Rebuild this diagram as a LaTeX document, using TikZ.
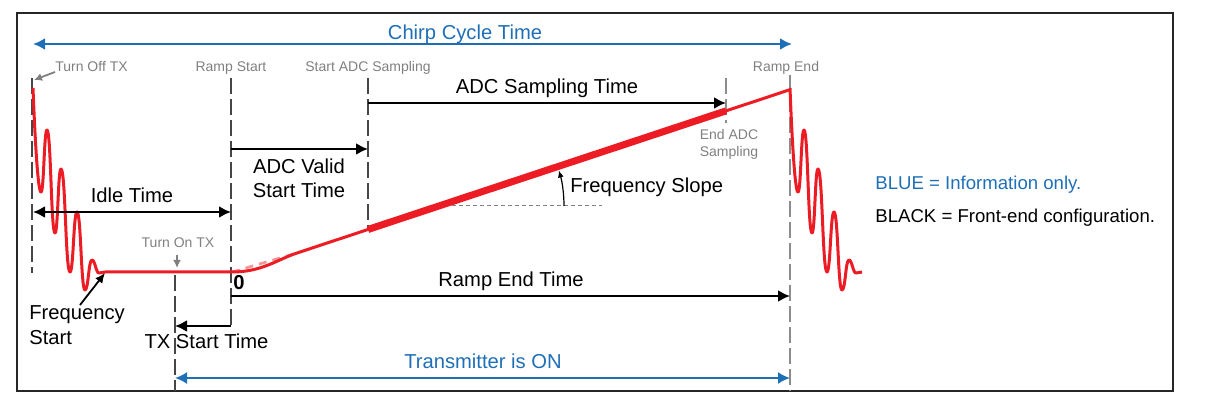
\documentclass[tikz,border=0pt]{standalone}
\usepackage{fontspec}
\setmainfont{Liberation Sans}
\usetikzlibrary{arrows.meta}
\usetikzlibrary{calc}
\usetikzlibrary{positioning}
\definecolor{chirpred}{RGB}{237,28,36}
\definecolor{infoblue}{RGB}{31,111,183}
\definecolor{tagGray}{RGB}{128,128,128}
\definecolor{lineDark}{RGB}{70,70,70}
\definecolor{lineLight}{RGB}{140,140,140}
\definecolor{rampPink}{RGB}{240,150,150}

\begin{document}
\begin{tikzpicture}[
  x=0.5pt, y=-0.5pt,
  > = {Latex[length=6pt,width=6pt]},
  lbl/.style = {inner sep=0pt, font=\fontsize{10.1}{12}\selectfont},
  tag/.style = {inner sep=0pt, text=tagGray, font=\fontsize{7}{8.5}\selectfont},
  legend/.style = {inner sep=0pt, anchor=base west, font=\fontsize{9.3}{11}\selectfont},
  markline/.style = {draw=lineDark, line width=1pt, dash pattern=on 8pt off 2.5pt},
  markline light/.style = {markline, draw=lineLight},
  dimline/.style = {line width=1.1pt},
  infoline/.style = {draw=infoblue, line width=1.2pt},
  chirp/.style = {draw=chirpred, line width=1.5pt, line join=round},
  pointer/.style = {draw=tagGray, line width=0.9pt, -{Latex[length=4pt,width=4pt]}}
  ]
	\useasboundingbox (0,0) rectangle (1216,406);
	\draw[line width=1.3pt, draw=black!85] (17,13) rectangle (1173,391);

	% markers
	\coordinate (offtop) at (32,78);
	\coordinate (offbot) at (32,273);
	\coordinate (ontop) at (175,275);
	\coordinate (onbot) at (175,391);
	\coordinate (rstop) at (231,78);
	\coordinate (rsbot) at (231,328);
	\coordinate (satop) at (368,78);
	\coordinate (sabot) at (368,229);
	\coordinate (eatop) at (726,78);
	\coordinate (eabot) at (726,123);
	\coordinate (retop) at (790,75);
	\coordinate (rebot) at (790,391);

	\draw[markline] (offtop) -- (offbot);
	\draw[markline] (ontop) -- (onbot);
	\draw[markline] (rstop) -- (rsbot);
	\draw[markline] (satop) -- (sabot);
	\draw[markline light] (eatop) -- (eabot);
	\draw[markline light] (retop) -- (rebot);

	\node[tag, anchor=base] (offtag) at (91.5,72) {Turn Off TX};
	\node[tag, above=1.5pt of rstop] (rstag) {Ramp Start};
	\node[tag, above=1.5pt of satop] (satag) {Start ADC Sampling};
	\node[tag, anchor=base] (retag) at (786,72) {Ramp End};
	\node[tag, align=center] (eatag) at (729,144) {End ADC\\Sampling};
	\node[tag, anchor=base] (ontag) at (178,248) {Turn On TX};

	\coordinate (offtip) at (34,80);
	\coordinate (offfrom) at (55,72);
	\coordinate (ontip) at (177,268);
	\coordinate (onfrom) at (177,255);
	\draw[pointer] (offfrom) -- (offtip);
	\draw[pointer] (onfrom) -- (ontip);

	% chirp
	\coordinate (flatend) at (232,272);
	\coordinate (rampkink) at (297,253);
	\coordinate (rampend) at (789,90);
	\coordinate (adcon) at ($(rampkink)!0.1443!(rampend)$);
	\coordinate (adcoff) at ($(rampkink)!0.872!(rampend)$);

	\draw[draw=rampPink, line width=1.3pt, dash pattern=on 4pt off 3pt] (flatend) -- (rampkink);

	\foreach \xs in {0,757}
	  \draw[chirp, shift={(\xs,0)}] (33,88) .. controls (35,140) and (38,192) .. (41,192)
	    .. controls (44,192) and (44,130) .. (47,130)
	    .. controls (51,130) and (51,233) .. (55,233)
	    .. controls (58,233) and (58,169) .. (61,169)
	    .. controls (65.5,169) and (65.5,272) .. (70,272)
	    .. controls (73.5,272) and (73.5,212) .. (77,212)
	    .. controls (81,212) and (81,290) .. (85,290)
	    .. controls (88.5,290) and (88.5,260) .. (92,260)
	    .. controls (95,260) and (96,273) .. (99,273)
	    .. controls (101,273) and (103,272) .. (105,272);

	\draw[chirp] (105,272) -- (flatend) .. controls (262,272) and (277,259.6) .. (rampkink) -- (rampend);
	\draw[chirp, line width=3.5pt] (adcon) -- (adcoff);

	% frequency slope
	\coordinate (slopectr) at (439,206);
	\coordinate (slopeL) at (452,206);
	\coordinate (slopeR) at (602,206);
	\draw[draw=gray, line width=0.5pt, dash pattern=on 2pt off 1.5pt] (slopeL) -- (slopeR);
	\draw[line width=0.6pt, -{Latex[length=3.5pt,width=3pt]}] ($(slopectr)+(125,0)$) arc[start angle=0, end angle=-16.5, radius=125];
	\node[lbl, anchor=base west] (slopetxt) at (570,193) {Frequency Slope};

	% timings
	\coordinate (cycleL) at (33,44);
	\coordinate (cycleR) at (792,44);
	\coordinate (idleL) at (33,212);
	\coordinate (idleR) at (231,212);
	\coordinate (validL) at (231,149);
	\coordinate (validR) at (368,149);
	\coordinate (sampL) at (368,103);
	\coordinate (sampR) at (726,103);
	\coordinate (rendL) at (231,296);
	\coordinate (rendR) at (790,296);
	\coordinate (txsR) at (231,326);
	\coordinate (txsL) at (175,326);
	\coordinate (txonL) at (175,378);
	\coordinate (txonR) at (790,378);
	\coordinate (fsfrom) at (80,305);
	\coordinate (fstip) at (105,273);

	\draw[infoline, <->] (cycleL) -- (cycleR);
	\draw[dimline, <->] (idleL) -- (idleR);
	\draw[dimline, ->] (validL) -- (validR);
	\draw[dimline] (sampL) -- (satop |- sampL);
	\draw[dimline, ->] (sampL) -- (sampR);
	\draw[dimline, ->] (rendL) -- (rendR);
	\draw[dimline, ->] (txsR) -- (txsL);
	\draw[infoline, line width=1pt, <->] (txonL) -- (txonR);
	\draw[line width=0.9pt, -{Latex[length=5pt,width=4.5pt]}] (fsfrom) -- (fstip);

	\node[lbl, text=infoblue, anchor=base] (cycletxt) at (465,40) {Chirp Cycle Time};
	\node[lbl, anchor=base] (idletxt) at (132,203) {Idle Time};
	\node[lbl, align=center] (validtxt) at (299,178) {ADC Valid\\Start Time};
	\node[lbl, anchor=base] (samptxt) at (547,94) {ADC Sampling Time};
	\node[lbl, anchor=base] (rendtxt) at (511,287) {Ramp End Time};
	\node[lbl, anchor=base west, font=\fontsize{10.1}{12}\selectfont\bfseries] (zerotxt) at (233,290) {0};
	\node[lbl, align=left, anchor=west, font=\fontsize{10.1}{12.5}\selectfont] (fstarttxt) at (29,325) {Frequency\\Start};
	\node[lbl, anchor=base] (txstxt) at (206.5,349) {TX Start Time};
	\node[lbl, text=infoblue, anchor=base] (txontxt) at (483,369) {Transmitter is ON};

	% legend
	\node[legend, text=infoblue] (bluekey) at (875,190) {BLUE = Information only.};
	\node[legend] (blackkey) at (875,223) {BLACK = Front-end configuration.};

\end{tikzpicture}
\end{document}
